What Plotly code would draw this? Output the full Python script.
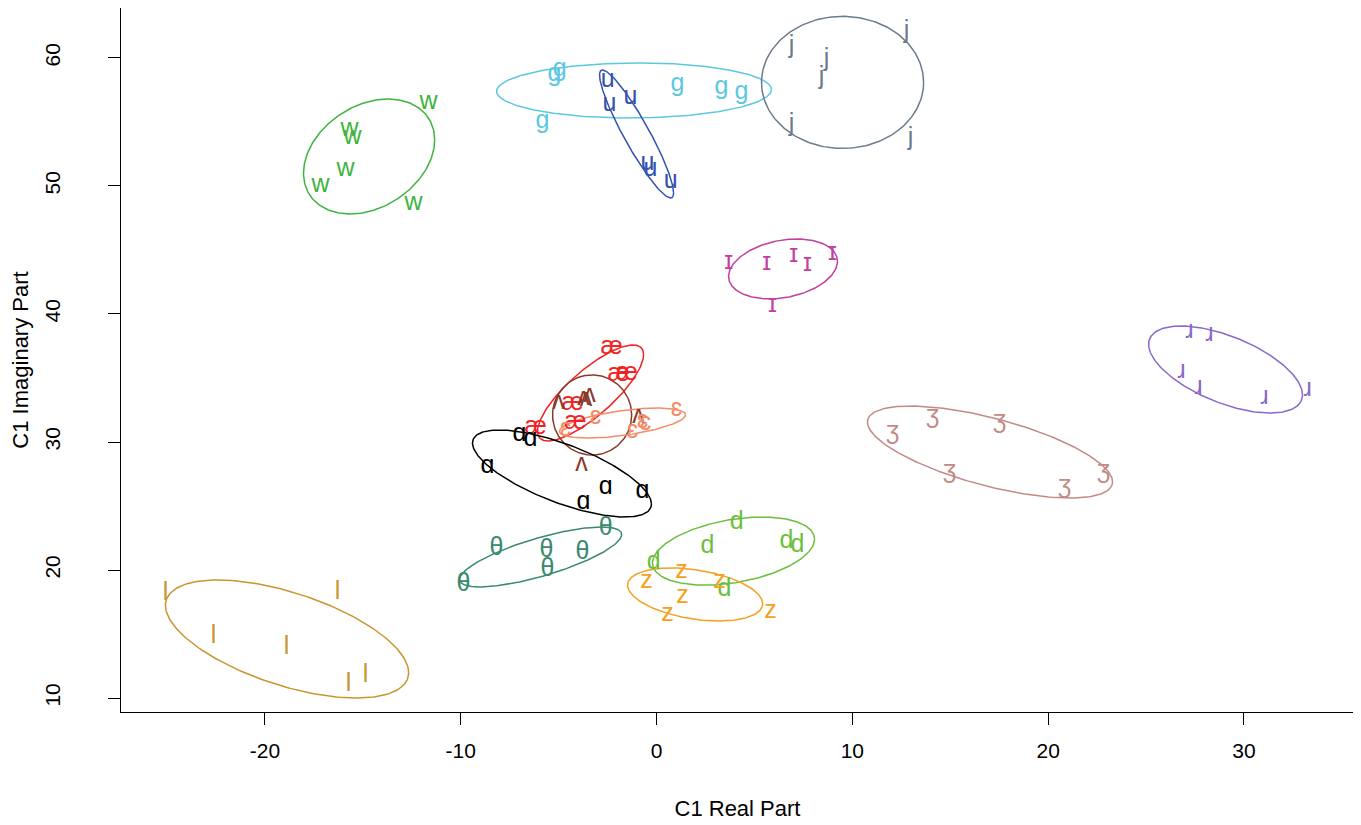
import numpy as np
import plotly.graph_objects as go

# ---- data: phoneme labels, token positions (C1 real, C1 imaginary) ----
phonemes = ["w", "g", "u", "j", "ɪ", "æ", "ʌ", "ɛ", "ɑ", "θ", "d", "z", "l", "ʒ", "ɹ"]

real_w = [-11.64, -15.68, -15.53, -15.88, -17.16, -12.41]
imag_w = [56.48, 54.38, 53.75, 51.25, 50.00, 48.60]
real_g = [-5.21, -4.95, -5.82, 1.07, 3.32, 4.34]
imag_g = [58.67, 59.06, 55.00, 57.89, 57.66, 57.27]
real_u = [-2.50, -2.40, -1.33, -0.46, -0.31, 0.72]
imag_u = [58.20, 56.33, 56.88, 51.72, 51.25, 50.31]
real_j = [6.89, 8.68, 8.43, 12.77, 6.89, 12.97]
imag_j = [60.86, 59.84, 58.44, 62.03, 54.77, 53.67]
real_I = [3.68, 5.62, 7.00, 7.71, 8.99, 5.92]
imag_I = [43.98, 43.91, 44.53, 43.83, 44.69, 40.63]
real_ae = [-2.30, -1.94, -1.53, -4.29, -4.14, -6.18]
imag_ae = [37.34, 35.23, 35.31, 32.97, 31.48, 31.09]
real_V = [-5.01, -3.73, -3.42, -0.92, -3.83, -3.60]
imag_V = [33.05, 33.36, 33.59, 31.95, 28.20, 33.30]
real_E = [-3.12, -4.65, -0.72, -0.56, -1.23, 1.02]
imag_E = [31.88, 30.94, 31.56, 31.41, 30.78, 32.50]
real_A = [-7.00, -6.44, -8.63, -3.73, -2.60, -0.72]
imag_A = [30.55, 30.16, 28.05, 25.23, 26.41, 26.09]
real_T = [-2.60, -8.17, -5.62, -3.78, -5.57, -9.86]
imag_T = [23.20, 21.64, 21.48, 21.33, 20.00, 18.83]
real_d = [4.09, 2.60, 6.64, 7.20, -0.15, 3.47]
imag_d = [23.67, 21.80, 22.19, 21.88, 20.55, 18.44]
real_z = [1.28, -0.51, 3.22, 1.33, 0.56, 5.82]
imag_z = [19.84, 19.06, 19.06, 17.89, 16.48, 16.72]
real_l = [-25.08, -16.29, -22.63, -18.90, -15.73, -14.86]
imag_l = [18.13, 18.20, 14.77, 13.91, 11.02, 11.72]
real_Z = [12.05, 14.10, 17.52, 14.96, 20.84, 22.83]
imag_Z = [30.70, 31.95, 31.56, 27.66, 26.48, 27.66]
real_r = [27.22, 28.24, 26.81, 27.68, 31.05, 33.25]
imag_r = [38.59, 38.36, 35.47, 34.22, 33.44, 34.06]

reals = [real_w, real_g, real_u, real_j, real_I, real_ae, real_V, real_E,
         real_A, real_T, real_d, real_z, real_l, real_Z, real_r]
imags = [imag_w, imag_g, imag_u, imag_j, imag_I, imag_ae, imag_V, imag_E,
         imag_A, imag_T, imag_d, imag_z, imag_l, imag_Z, imag_r]

# ellipse summaries per phoneme: centre, half-extent in x / y, correlation
ell_cx = [-14.68, -1.15, -1.02, 9.50, 6.46, -3.37, -3.29, -1.74, -4.83, -5.92, 3.93, 1.97, -18.87, 17.03, 29.06]
ell_cy = [52.30, 57.46, 54.06, 58.09, 43.52, 33.83, 32.11, 31.48, 27.54, 21.02, 21.48, 18.09, 14.61, 29.22, 35.66]
ell_sx = [3.35, 7.02, 1.89, 4.14, 2.78, 2.71, 2.02, 3.22, 4.57, 4.14, 4.14, 3.45, 6.21, 6.26, 3.93]
ell_sy = [4.49, 2.15, 5.00, 5.16, 2.34, 3.75, 3.13, 1.17, 3.40, 2.34, 2.66, 2.07, 4.61, 3.59, 3.40]
ell_r = [0.29, 0.03, -0.92, 0.0, 0.25, 0.80, 0.0, 0.55, -0.70, 0.75, 0.35, -0.35, -0.57, -0.65, -0.58]

x_ticks = [-20, -10, 0, 10, 20, 30]
x_tick_labels = ["-20", "-10", "0", "10", "20", "30"]
y_ticks = [10, 20, 30, 40, 50, 60]
y_tick_labels = ["10", "20", "30", "40", "50", "60"]

# ---- styles ----
colors = ["#3DB53D", "#5CC8E0", "#3452AE", "#6B7A8C", "#C23E9F", "#F22222",
          "#8B3A2A", "#F28C68", "#000000", "#3A8A6E", "#6CBF3C", "#F5A020",
          "#C8952E", "#C28A86", "#8868C8"]

FONT = "Liberation Sans, Arial, Helvetica, sans-serif"

fig = go.Figure()
t = np.linspace(0, 2 * np.pi, 241)
for i, ph in enumerate(phonemes):
    phi = np.arccos(np.clip(ell_r[i], -1, 1))
    ex = ell_cx[i] + ell_sx[i] * np.cos(t)
    ey = ell_cy[i] + ell_sy[i] * np.cos(t - phi)
    fig.add_trace(go.Scatter(x=ex, y=ey, mode="lines",
                             line=dict(color=colors[i], width=1.5),
                             hoverinfo="skip", showlegend=False))
for i, ph in enumerate(phonemes):
    fig.add_trace(go.Scatter(x=reals[i], y=imags[i], mode="text",
                             text=[ph] * len(reals[i]),
                             textposition="middle center",
                             textfont=dict(family=FONT, size=25, color=colors[i]),
                             name=ph, showlegend=False))

fig.update_layout(
    width=1353, height=817,
    margin=dict(l=113, r=7, t=0, b=113),
    paper_bgcolor="white", plot_bgcolor="white",
    font=dict(family=FONT, size=21, color="black"),
    xaxis=dict(range=[-27.35, 35.62], tickvals=x_ticks, ticktext=x_tick_labels,
               ticks="outside",
               ticklen=12, tickwidth=1, tickcolor="black", showgrid=False,
               zeroline=False, showline=True, linecolor="black", linewidth=1,
               mirror=True, ticklabelstandoff=8,
               title=dict(text="C1 Real Part", standoff=39,
                          font=dict(size=22))),
    yaxis=dict(range=[8.91, 63.9], tickvals=y_ticks, ticktext=y_tick_labels,
               ticks="outside",
               ticklen=12, tickwidth=1, tickcolor="black", showgrid=False,
               zeroline=False, showline=True, linecolor="black", linewidth=1,
               mirror=True, tickangle=-90, ticklabelstandoff=40,
               title=dict(text="C1 Imaginary Part", standoff=8,
                          font=dict(size=22))),
)

fig.write_html("out.html")
